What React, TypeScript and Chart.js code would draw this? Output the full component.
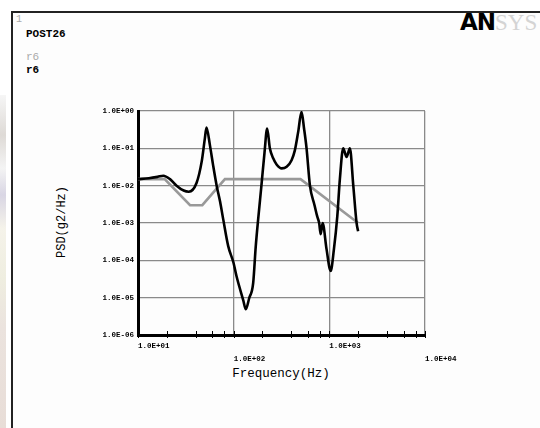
import React, { useEffect, useRef } from "react";
import { Chart, registerables } from "chart.js";

Chart.register(...registerables);

// Response PSD (r6)
const responseFreq = [
  10, 13, 16, 18.4, 21.6, 25.3, 30, 34, 41, 46.3, 50, 52, 56.5, 61, 66.4, 72,
  77.8, 87.7, 99.6, 107, 126, 134, 145, 160, 170, 181, 195, 210, 224, 239, 259,
  281, 318, 358, 403, 436, 473, 512, 545, 578, 627, 700, 747, 783, 811, 851, 935,
  1032, 1117, 1211, 1288, 1396, 1514, 1640, 1780, 1927, 2000,
];
const responsePsd = [
  0.015, 0.0158, 0.0172, 0.0185, 0.015, 0.01, 0.0074, 0.0069, 0.012, 0.044,
  0.185, 0.36, 0.12, 0.035, 0.01, 0.0038, 0.00125, 0.00024, 0.000086, 0.000038,
  0.0000085, 0.0000049, 0.0000095, 0.000025, 0.00023, 0.0014, 0.01, 0.076, 0.34,
  0.1, 0.054, 0.037, 0.029, 0.032, 0.048, 0.088, 0.28, 0.95, 0.33, 0.1, 0.01,
  0.003, 0.0015, 0.001, 0.0005, 0.001, 0.0002, 0.000052, 0.0002, 0.0015, 0.0147,
  0.1, 0.059, 0.1, 0.01, 0.001, 0.0006,
];

// Input PSD (gray)
const inputFreq = [10, 19, 35, 47, 81, 500, 2000];
const inputPsd = [0.015, 0.015, 0.003, 0.003, 0.015, 0.015, 0.001];

const xTickValues = [10, 100, 1000, 10000];
const xTickLabels = ["1.0E+01", "1.0E+02", "1.0E+03", "1.0E+04"];
const yTickValues = [1e-6, 1e-5, 1e-4, 1e-3, 1e-2, 1e-1, 1];
const yTickLabels = [
  "1.0E-06",
  "1.0E-05",
  "1.0E-04",
  "1.0E-03",
  "1.0E-02",
  "1.0E-01",
  "1.0E+00",
];
const minorMultipliers = [2, 4, 6, 8];
const minorDecades = [10, 100, 1000];

const W = 540;
const H = 428;
const PLOT_LEFT = 138;
const PLOT_TOP = 111;
const PLOT_RIGHT = 425;
const PLOT_BOTTOM = 335;

const mono = "'Liberation Mono', 'DejaVu Sans Mono', monospace";

const minorTickPlugin = {
  id: "minorTicks",
  afterDatasetsDraw(chart: any) {
    const xs = chart.scales.x;
    const ctx = chart.ctx;
    const b = chart.chartArea.bottom;
    ctx.save();
    ctx.strokeStyle = "#000";
    ctx.lineWidth = 1;
    const vals: number[] = [];
    minorDecades.forEach((d) => minorMultipliers.forEach((m) => vals.push(d * m)));
    xTickValues.forEach((v) => vals.push(v));
    vals.forEach((v) => {
      const px = Math.round(xs.getPixelForValue(v)) + 0.5;
      ctx.beginPath();
      ctx.moveTo(px, b - 4);
      ctx.lineTo(px, b + 3);
      ctx.stroke();
    });
    ctx.restore();
  },
};

function PsdChart() {
  const ref = useRef<HTMLCanvasElement | null>(null);
  useEffect(() => {
    if (!ref.current) return;
    const chart = new Chart(ref.current, {
      type: "scatter",
      data: {
        datasets: [
          {
            label: "r6",
            data: responseFreq.map((f, i) => ({ x: f, y: responsePsd[i] })),
            showLine: true,
            borderColor: "#000",
            borderWidth: 2.6,
            pointRadius: 0,
            cubicInterpolationMode: "monotone",
          },
          {
            label: "input",
            data: inputFreq.map((f, i) => ({ x: f, y: inputPsd[i] })),
            showLine: true,
            borderColor: "#999",
            borderWidth: 2.6,
            pointRadius: 0,
            tension: 0,
          },
        ],
      },
      plugins: [minorTickPlugin],
      options: {
        animation: false,
        responsive: false,
        devicePixelRatio: 1,
        layout: {
          padding: { left: 0, top: PLOT_TOP, right: W - PLOT_RIGHT, bottom: 0 },
        },
        plugins: {
          legend: { display: false },
          tooltip: { enabled: false },
        },
        scales: {
          x: {
            type: "logarithmic",
            min: 10,
            max: 10000,
            afterBuildTicks: (s: any) => {
              s.ticks = xTickValues.map((v) => ({ value: v }));
            },
            afterFit: (s: any) => {
              s.height = H - PLOT_BOTTOM;
              s.paddingLeft = 0;
              s.paddingRight = 0;
            },
            ticks: {
              autoSkip: false,
              maxRotation: 0,
              minRotation: 0,
              align: "start",
              padding: 5,
              color: "#000",
              font: { family: mono, size: 7.5, weight: "bold", lineHeight: 1.68 },
              callback: (_v: any, i: number) =>
                i % 2 === 0 ? xTickLabels[i] : ["", xTickLabels[i]],
            },
            grid: {
              color: "#8a8a8a",
              lineWidth: 1.3,
              drawTicks: false,
            },
            border: { color: "#000", width: 3 },
          },
          y: {
            type: "logarithmic",
            min: 1e-6,
            max: 1,
            afterBuildTicks: (s: any) => {
              s.ticks = yTickValues.map((v) => ({ value: v }));
            },
            afterFit: (s: any) => {
              s.width = PLOT_LEFT;
              s.paddingTop = 0;
              s.paddingBottom = 0;
            },
            ticks: {
              autoSkip: false,
              padding: 4,
              color: "#000",
              font: { family: mono, size: 7.5, weight: "bold" },
              callback: (_v: any, i: number) => yTickLabels[i],
            },
            grid: {
              color: "#8a8a8a",
              lineWidth: 1.3,
              drawTicks: false,
            },
            border: { color: "#000", width: 3 },
          },
        },
      },
    } as any);
    return () => chart.destroy();
  }, []);
  return (
    <canvas
      ref={ref}
      width={W}
      height={H}
      style={{ position: "absolute", left: 0, top: 0, width: W, height: H }}
    />
  );
}

function Txt(props: {
  x: number;
  y: number;
  size: number;
  color?: string;
  bold?: boolean;
  children: React.ReactNode;
}) {
  return (
    <div
      style={{
        position: "absolute",
        left: props.x,
        top: props.y - props.size / 2,
        fontFamily: mono,
        fontSize: props.size,
        lineHeight: `${props.size}px`,
        fontWeight: props.bold ? "bold" : "normal",
        color: props.color || "#000",
        whiteSpace: "nowrap",
      }}
    >
      {props.children}
    </div>
  );
}

export default function App() {
  return (
    <div
      style={{
        position: "fixed",
        left: 0,
        top: 0,
        width: W,
        height: H,
        background: "#ffffff",
        overflow: "hidden",
      }}
    >
      <div
        style={{
          position: "absolute",
          left: 0,
          top: 95,
          width: 6,
          height: H - 95,
          background:
            "linear-gradient(to bottom, #f6f6f6 0%, #dedad6 12%, #f4f4f4 22%, #d9d6e4 30%, #f5f3ea 40%, #efeee0 55%, #ebe3de 70%, #e8ddd7 100%)",
        }}
      />
      <div
        style={{
          position: "absolute",
          left: 11,
          top: 11,
          width: W,
          height: H,
          borderLeft: "2px solid #222",
          borderTop: "2px solid #222",
          background: "#fdfdfd",
        }}
      />
      <Txt x={16} y={20} size={10} color="#aaa">1</Txt>
      <Txt x={26} y={34} size={11} bold>POST26</Txt>
      <Txt x={26} y={57} size={11} color="#aaa">r6</Txt>
      <Txt x={26} y={70} size={11} bold>r6</Txt>
      <div
        style={{
          position: "absolute",
          left: 460,
          top: 8,
          fontSize: 23,
          lineHeight: "28px",
          whiteSpace: "nowrap",
        }}
      >
        <span style={{ fontFamily: "'DejaVu Sans', sans-serif", fontWeight: "bold", color: "#000", letterSpacing: -1 }}>
          AN
        </span>
        <span style={{ fontFamily: "'Liberation Serif', serif", color: "#d4d4d4" }}>SYS</span>
      </div>
      <div
        style={{
          position: "absolute",
          left: 62,
          top: 222,
          transform: "translate(-50%, -50%) rotate(-90deg)",
          fontFamily: mono,
          fontSize: 12,
          whiteSpace: "nowrap",
          color: "#000",
        }}
      >
        PSD(g2/Hz)
      </div>
      <div
        style={{
          position: "absolute",
          left: 281,
          top: 374,
          transform: "translate(-50%, -50%)",
          fontFamily: mono,
          fontSize: 12.5,
          whiteSpace: "nowrap",
          color: "#000",
        }}
      >
        Frequency(Hz)
      </div>
      <PsdChart />
    </div>
  );
}
